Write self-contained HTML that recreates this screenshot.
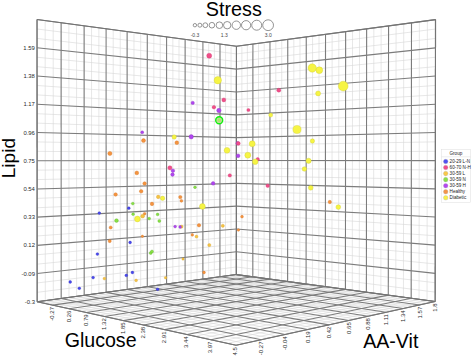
<!DOCTYPE html>
<html><head><meta charset="utf-8"><style>
html,body{margin:0;padding:0;background:#fff;}
svg{display:block;}
text{font-family:"Liberation Sans",sans-serif;}
</style></head><body>
<svg width="472" height="356" viewBox="0 0 472 356">
<rect width="472" height="356" fill="#fff"/>
<g><line x1="45.30" y1="300.63" x2="45.17" y2="20.67" stroke="#d6d6d6" stroke-width="0.6"/>
<line x1="37.15" y1="292.35" x2="236.39" y2="266.98" stroke="#d6d6d6" stroke-width="0.6"/>
<line x1="241.79" y1="275.32" x2="241.88" y2="45.58" stroke="#d6d6d6" stroke-width="0.6"/>
<line x1="236.39" y1="266.98" x2="435.17" y2="292.11" stroke="#d6d6d6" stroke-width="0.6"/>
<line x1="42.27" y1="302.86" x2="241.79" y2="275.32" stroke="#d6d6d6" stroke-width="0.6"/>
<line x1="45.30" y1="300.63" x2="244.66" y2="343.39" stroke="#d6d6d6" stroke-width="0.6"/>
<line x1="53.32" y1="299.54" x2="53.20" y2="21.74" stroke="#d6d6d6" stroke-width="0.6"/>
<line x1="37.15" y1="282.95" x2="236.39" y2="259.38" stroke="#d6d6d6" stroke-width="0.6"/>
<line x1="247.26" y1="276.06" x2="247.36" y2="44.84" stroke="#d6d6d6" stroke-width="0.6"/>
<line x1="236.39" y1="259.38" x2="435.18" y2="282.72" stroke="#d6d6d6" stroke-width="0.6"/>
<line x1="47.47" y1="304.00" x2="247.26" y2="276.06" stroke="#d6d6d6" stroke-width="0.6"/>
<line x1="53.32" y1="299.54" x2="253.08" y2="341.54" stroke="#d6d6d6" stroke-width="0.6"/>
<line x1="68.99" y1="297.40" x2="68.89" y2="23.84" stroke="#d6d6d6" stroke-width="0.6"/>
<line x1="37.14" y1="264.16" x2="236.40" y2="244.17" stroke="#d6d6d6" stroke-width="0.6"/>
<line x1="258.41" y1="277.57" x2="258.52" y2="43.35" stroke="#d6d6d6" stroke-width="0.6"/>
<line x1="236.40" y1="244.17" x2="435.21" y2="263.95" stroke="#d6d6d6" stroke-width="0.6"/>
<line x1="58.11" y1="306.33" x2="258.41" y2="277.57" stroke="#d6d6d6" stroke-width="0.6"/>
<line x1="68.99" y1="297.40" x2="269.43" y2="337.94" stroke="#d6d6d6" stroke-width="0.6"/>
<line x1="76.64" y1="296.36" x2="76.56" y2="24.87" stroke="#d6d6d6" stroke-width="0.6"/>
<line x1="37.14" y1="254.76" x2="236.40" y2="236.57" stroke="#d6d6d6" stroke-width="0.6"/>
<line x1="264.10" y1="278.34" x2="264.22" y2="42.58" stroke="#d6d6d6" stroke-width="0.6"/>
<line x1="236.40" y1="236.57" x2="435.22" y2="254.56" stroke="#d6d6d6" stroke-width="0.6"/>
<line x1="63.56" y1="307.52" x2="264.10" y2="278.34" stroke="#d6d6d6" stroke-width="0.6"/>
<line x1="76.64" y1="296.36" x2="277.36" y2="336.20" stroke="#d6d6d6" stroke-width="0.6"/>
<line x1="91.61" y1="294.32" x2="91.54" y2="26.88" stroke="#d6d6d6" stroke-width="0.6"/>
<line x1="37.13" y1="235.97" x2="236.41" y2="221.36" stroke="#d6d6d6" stroke-width="0.6"/>
<line x1="275.70" y1="279.91" x2="275.83" y2="41.03" stroke="#d6d6d6" stroke-width="0.6"/>
<line x1="236.41" y1="221.36" x2="435.24" y2="235.79" stroke="#d6d6d6" stroke-width="0.6"/>
<line x1="74.73" y1="309.97" x2="275.70" y2="279.91" stroke="#d6d6d6" stroke-width="0.6"/>
<line x1="91.61" y1="294.32" x2="292.77" y2="332.81" stroke="#d6d6d6" stroke-width="0.6"/>
<line x1="98.93" y1="293.32" x2="98.87" y2="27.86" stroke="#d6d6d6" stroke-width="0.6"/>
<line x1="37.12" y1="226.57" x2="236.41" y2="213.76" stroke="#d6d6d6" stroke-width="0.6"/>
<line x1="281.61" y1="280.71" x2="281.75" y2="40.23" stroke="#d6d6d6" stroke-width="0.6"/>
<line x1="236.41" y1="213.76" x2="435.25" y2="226.40" stroke="#d6d6d6" stroke-width="0.6"/>
<line x1="80.46" y1="311.22" x2="281.61" y2="280.71" stroke="#d6d6d6" stroke-width="0.6"/>
<line x1="98.93" y1="293.32" x2="300.25" y2="331.16" stroke="#d6d6d6" stroke-width="0.6"/>
<line x1="113.25" y1="291.37" x2="113.21" y2="29.78" stroke="#d6d6d6" stroke-width="0.6"/>
<line x1="37.11" y1="207.76" x2="236.41" y2="198.54" stroke="#d6d6d6" stroke-width="0.6"/>
<line x1="293.68" y1="282.34" x2="293.84" y2="38.61" stroke="#d6d6d6" stroke-width="0.6"/>
<line x1="236.41" y1="198.54" x2="435.28" y2="207.61" stroke="#d6d6d6" stroke-width="0.6"/>
<line x1="92.20" y1="313.79" x2="293.68" y2="282.34" stroke="#d6d6d6" stroke-width="0.6"/>
<line x1="113.25" y1="291.37" x2="314.80" y2="327.96" stroke="#d6d6d6" stroke-width="0.6"/>
<line x1="120.25" y1="290.41" x2="120.22" y2="30.72" stroke="#d6d6d6" stroke-width="0.6"/>
<line x1="37.11" y1="198.36" x2="236.42" y2="190.94" stroke="#d6d6d6" stroke-width="0.6"/>
<line x1="299.84" y1="283.17" x2="300.00" y2="37.79" stroke="#d6d6d6" stroke-width="0.6"/>
<line x1="236.42" y1="190.94" x2="435.29" y2="198.22" stroke="#d6d6d6" stroke-width="0.6"/>
<line x1="98.22" y1="315.11" x2="299.84" y2="283.17" stroke="#d6d6d6" stroke-width="0.6"/>
<line x1="120.25" y1="290.41" x2="321.88" y2="326.41" stroke="#d6d6d6" stroke-width="0.6"/>
<line x1="133.96" y1="288.55" x2="133.94" y2="32.56" stroke="#d6d6d6" stroke-width="0.6"/>
<line x1="37.10" y1="179.56" x2="236.42" y2="175.72" stroke="#d6d6d6" stroke-width="0.6"/>
<line x1="312.41" y1="284.88" x2="312.59" y2="36.10" stroke="#d6d6d6" stroke-width="0.6"/>
<line x1="236.42" y1="175.72" x2="435.31" y2="179.44" stroke="#d6d6d6" stroke-width="0.6"/>
<line x1="110.58" y1="317.81" x2="312.41" y2="284.88" stroke="#d6d6d6" stroke-width="0.6"/>
<line x1="133.96" y1="288.55" x2="335.64" y2="323.38" stroke="#d6d6d6" stroke-width="0.6"/>
<line x1="140.67" y1="287.63" x2="140.66" y2="33.46" stroke="#d6d6d6" stroke-width="0.6"/>
<line x1="37.09" y1="170.15" x2="236.43" y2="168.11" stroke="#d6d6d6" stroke-width="0.6"/>
<line x1="318.83" y1="285.75" x2="319.02" y2="35.24" stroke="#d6d6d6" stroke-width="0.6"/>
<line x1="236.43" y1="168.11" x2="435.33" y2="170.04" stroke="#d6d6d6" stroke-width="0.6"/>
<line x1="116.93" y1="319.20" x2="318.83" y2="285.75" stroke="#d6d6d6" stroke-width="0.6"/>
<line x1="140.67" y1="287.63" x2="342.33" y2="321.91" stroke="#d6d6d6" stroke-width="0.6"/>
<line x1="153.80" y1="285.84" x2="153.81" y2="35.23" stroke="#d6d6d6" stroke-width="0.6"/>
<line x1="37.08" y1="151.34" x2="236.43" y2="152.89" stroke="#d6d6d6" stroke-width="0.6"/>
<line x1="331.94" y1="287.52" x2="332.14" y2="33.48" stroke="#d6d6d6" stroke-width="0.6"/>
<line x1="236.43" y1="152.89" x2="435.35" y2="151.25" stroke="#d6d6d6" stroke-width="0.6"/>
<line x1="129.95" y1="322.05" x2="331.94" y2="287.52" stroke="#d6d6d6" stroke-width="0.6"/>
<line x1="153.80" y1="285.84" x2="355.37" y2="319.04" stroke="#d6d6d6" stroke-width="0.6"/>
<line x1="160.23" y1="284.96" x2="160.24" y2="36.09" stroke="#d6d6d6" stroke-width="0.6"/>
<line x1="37.08" y1="141.93" x2="236.43" y2="145.28" stroke="#d6d6d6" stroke-width="0.6"/>
<line x1="338.63" y1="288.43" x2="338.84" y2="32.58" stroke="#d6d6d6" stroke-width="0.6"/>
<line x1="236.43" y1="145.28" x2="435.36" y2="141.85" stroke="#d6d6d6" stroke-width="0.6"/>
<line x1="136.64" y1="323.52" x2="338.63" y2="288.43" stroke="#d6d6d6" stroke-width="0.6"/>
<line x1="160.23" y1="284.96" x2="361.72" y2="317.65" stroke="#d6d6d6" stroke-width="0.6"/>
<line x1="172.83" y1="283.25" x2="172.86" y2="37.78" stroke="#d6d6d6" stroke-width="0.6"/>
<line x1="37.07" y1="123.12" x2="236.44" y2="130.06" stroke="#d6d6d6" stroke-width="0.6"/>
<line x1="352.30" y1="290.28" x2="352.54" y2="30.75" stroke="#d6d6d6" stroke-width="0.6"/>
<line x1="236.44" y1="130.06" x2="435.39" y2="123.06" stroke="#d6d6d6" stroke-width="0.6"/>
<line x1="150.39" y1="326.53" x2="352.30" y2="290.28" stroke="#d6d6d6" stroke-width="0.6"/>
<line x1="172.83" y1="283.25" x2="374.09" y2="314.93" stroke="#d6d6d6" stroke-width="0.6"/>
<line x1="179.00" y1="282.41" x2="179.03" y2="38.61" stroke="#d6d6d6" stroke-width="0.6"/>
<line x1="37.06" y1="113.71" x2="236.44" y2="122.45" stroke="#d6d6d6" stroke-width="0.6"/>
<line x1="359.29" y1="291.22" x2="359.53" y2="29.81" stroke="#d6d6d6" stroke-width="0.6"/>
<line x1="236.44" y1="122.45" x2="435.40" y2="113.66" stroke="#d6d6d6" stroke-width="0.6"/>
<line x1="157.46" y1="328.07" x2="359.29" y2="291.22" stroke="#d6d6d6" stroke-width="0.6"/>
<line x1="179.00" y1="282.41" x2="380.11" y2="313.60" stroke="#d6d6d6" stroke-width="0.6"/>
<line x1="191.09" y1="280.76" x2="191.14" y2="40.23" stroke="#d6d6d6" stroke-width="0.6"/>
<line x1="37.06" y1="94.89" x2="236.45" y2="107.22" stroke="#d6d6d6" stroke-width="0.6"/>
<line x1="373.57" y1="293.16" x2="373.83" y2="27.89" stroke="#d6d6d6" stroke-width="0.6"/>
<line x1="236.45" y1="107.22" x2="435.42" y2="94.86" stroke="#d6d6d6" stroke-width="0.6"/>
<line x1="171.99" y1="331.25" x2="373.57" y2="293.16" stroke="#d6d6d6" stroke-width="0.6"/>
<line x1="191.09" y1="280.76" x2="391.86" y2="311.02" stroke="#d6d6d6" stroke-width="0.6"/>
<line x1="197.02" y1="279.95" x2="197.07" y2="41.02" stroke="#d6d6d6" stroke-width="0.6"/>
<line x1="37.05" y1="85.48" x2="236.45" y2="99.61" stroke="#d6d6d6" stroke-width="0.6"/>
<line x1="380.87" y1="294.14" x2="381.14" y2="26.91" stroke="#d6d6d6" stroke-width="0.6"/>
<line x1="236.45" y1="99.61" x2="435.43" y2="85.46" stroke="#d6d6d6" stroke-width="0.6"/>
<line x1="179.47" y1="332.89" x2="380.87" y2="294.14" stroke="#d6d6d6" stroke-width="0.6"/>
<line x1="197.02" y1="279.95" x2="397.59" y2="309.76" stroke="#d6d6d6" stroke-width="0.6"/>
<line x1="208.64" y1="278.37" x2="208.70" y2="42.58" stroke="#d6d6d6" stroke-width="0.6"/>
<line x1="37.04" y1="66.65" x2="236.46" y2="84.38" stroke="#d6d6d6" stroke-width="0.6"/>
<line x1="395.80" y1="296.16" x2="396.09" y2="24.91" stroke="#d6d6d6" stroke-width="0.6"/>
<line x1="236.46" y1="84.38" x2="435.46" y2="66.65" stroke="#d6d6d6" stroke-width="0.6"/>
<line x1="194.85" y1="336.26" x2="395.80" y2="296.16" stroke="#d6d6d6" stroke-width="0.6"/>
<line x1="208.64" y1="278.37" x2="408.76" y2="307.30" stroke="#d6d6d6" stroke-width="0.6"/>
<line x1="214.33" y1="277.59" x2="214.40" y2="43.35" stroke="#d6d6d6" stroke-width="0.6"/>
<line x1="37.04" y1="57.24" x2="236.46" y2="76.77" stroke="#d6d6d6" stroke-width="0.6"/>
<line x1="403.43" y1="297.20" x2="403.74" y2="23.88" stroke="#d6d6d6" stroke-width="0.6"/>
<line x1="236.46" y1="76.77" x2="435.47" y2="57.25" stroke="#d6d6d6" stroke-width="0.6"/>
<line x1="202.77" y1="337.99" x2="403.43" y2="297.20" stroke="#d6d6d6" stroke-width="0.6"/>
<line x1="214.33" y1="277.59" x2="414.21" y2="306.10" stroke="#d6d6d6" stroke-width="0.6"/>
<line x1="225.50" y1="276.07" x2="225.58" y2="44.84" stroke="#d6d6d6" stroke-width="0.6"/>
<line x1="37.03" y1="38.41" x2="236.47" y2="61.54" stroke="#d6d6d6" stroke-width="0.6"/>
<line x1="419.05" y1="299.31" x2="419.38" y2="21.78" stroke="#d6d6d6" stroke-width="0.6"/>
<line x1="236.47" y1="61.54" x2="435.49" y2="38.44" stroke="#d6d6d6" stroke-width="0.6"/>
<line x1="219.09" y1="341.56" x2="419.05" y2="299.31" stroke="#d6d6d6" stroke-width="0.6"/>
<line x1="225.50" y1="276.07" x2="424.85" y2="303.76" stroke="#d6d6d6" stroke-width="0.6"/>
<line x1="230.98" y1="275.32" x2="231.06" y2="45.58" stroke="#d6d6d6" stroke-width="0.6"/>
<line x1="37.02" y1="28.99" x2="236.47" y2="53.92" stroke="#d6d6d6" stroke-width="0.6"/>
<line x1="427.04" y1="300.39" x2="427.39" y2="20.71" stroke="#d6d6d6" stroke-width="0.6"/>
<line x1="236.47" y1="53.92" x2="435.50" y2="29.03" stroke="#d6d6d6" stroke-width="0.6"/>
<line x1="227.49" y1="343.40" x2="427.04" y2="300.39" stroke="#d6d6d6" stroke-width="0.6"/>
<line x1="230.98" y1="275.32" x2="430.05" y2="302.62" stroke="#d6d6d6" stroke-width="0.6"/>
<line x1="37.16" y1="301.74" x2="37.02" y2="19.57" stroke="#7c7c7c" stroke-width="1.1"/>
<line x1="37.16" y1="301.74" x2="236.38" y2="274.58" stroke="#7c7c7c" stroke-width="1.1"/>
<line x1="236.38" y1="274.58" x2="236.47" y2="46.30" stroke="#7c7c7c" stroke-width="1.1"/>
<line x1="236.38" y1="274.58" x2="435.16" y2="301.49" stroke="#7c7c7c" stroke-width="1.1"/>
<line x1="37.16" y1="301.74" x2="236.38" y2="274.58" stroke="#7c7c7c" stroke-width="1.1"/>
<line x1="37.16" y1="301.74" x2="236.07" y2="345.28" stroke="#7c7c7c" stroke-width="1.1"/>
<line x1="61.21" y1="298.46" x2="61.11" y2="22.80" stroke="#7c7c7c" stroke-width="1.1"/>
<line x1="37.14" y1="273.56" x2="236.39" y2="251.78" stroke="#7c7c7c" stroke-width="1.1"/>
<line x1="252.80" y1="276.81" x2="252.90" y2="44.10" stroke="#7c7c7c" stroke-width="1.1"/>
<line x1="236.39" y1="251.78" x2="435.20" y2="273.34" stroke="#7c7c7c" stroke-width="1.1"/>
<line x1="52.74" y1="305.15" x2="252.80" y2="276.81" stroke="#7c7c7c" stroke-width="1.1"/>
<line x1="61.21" y1="298.46" x2="261.34" y2="339.72" stroke="#7c7c7c" stroke-width="1.1"/>
<line x1="84.19" y1="295.33" x2="84.11" y2="25.88" stroke="#7c7c7c" stroke-width="1.1"/>
<line x1="37.13" y1="245.36" x2="236.40" y2="228.97" stroke="#7c7c7c" stroke-width="1.1"/>
<line x1="269.86" y1="279.12" x2="269.98" y2="41.81" stroke="#7c7c7c" stroke-width="1.1"/>
<line x1="236.40" y1="228.97" x2="435.23" y2="245.17" stroke="#7c7c7c" stroke-width="1.1"/>
<line x1="69.10" y1="308.73" x2="269.86" y2="279.12" stroke="#7c7c7c" stroke-width="1.1"/>
<line x1="84.19" y1="295.33" x2="285.14" y2="334.49" stroke="#7c7c7c" stroke-width="1.1"/>
<line x1="106.14" y1="292.34" x2="106.09" y2="28.83" stroke="#7c7c7c" stroke-width="1.1"/>
<line x1="37.12" y1="217.17" x2="236.41" y2="206.15" stroke="#7c7c7c" stroke-width="1.1"/>
<line x1="287.61" y1="281.52" x2="287.75" y2="39.43" stroke="#7c7c7c" stroke-width="1.1"/>
<line x1="236.41" y1="206.15" x2="435.27" y2="217.01" stroke="#7c7c7c" stroke-width="1.1"/>
<line x1="86.28" y1="312.49" x2="287.61" y2="281.52" stroke="#7c7c7c" stroke-width="1.1"/>
<line x1="106.14" y1="292.34" x2="307.60" y2="329.55" stroke="#7c7c7c" stroke-width="1.1"/>
<line x1="127.16" y1="289.47" x2="127.13" y2="31.65" stroke="#7c7c7c" stroke-width="1.1"/>
<line x1="37.10" y1="188.96" x2="236.42" y2="183.33" stroke="#7c7c7c" stroke-width="1.1"/>
<line x1="306.08" y1="284.02" x2="306.26" y2="36.95" stroke="#7c7c7c" stroke-width="1.1"/>
<line x1="236.42" y1="183.33" x2="435.30" y2="188.83" stroke="#7c7c7c" stroke-width="1.1"/>
<line x1="104.35" y1="316.45" x2="306.08" y2="284.02" stroke="#7c7c7c" stroke-width="1.1"/>
<line x1="127.16" y1="289.47" x2="328.82" y2="324.88" stroke="#7c7c7c" stroke-width="1.1"/>
<line x1="147.28" y1="286.73" x2="147.28" y2="34.35" stroke="#7c7c7c" stroke-width="1.1"/>
<line x1="37.09" y1="160.75" x2="236.43" y2="160.50" stroke="#7c7c7c" stroke-width="1.1"/>
<line x1="325.34" y1="286.63" x2="325.53" y2="34.37" stroke="#7c7c7c" stroke-width="1.1"/>
<line x1="236.43" y1="160.50" x2="435.34" y2="160.65" stroke="#7c7c7c" stroke-width="1.1"/>
<line x1="123.38" y1="320.61" x2="325.34" y2="286.63" stroke="#7c7c7c" stroke-width="1.1"/>
<line x1="147.28" y1="286.73" x2="348.91" y2="320.46" stroke="#7c7c7c" stroke-width="1.1"/>
<line x1="166.58" y1="284.10" x2="166.59" y2="36.94" stroke="#7c7c7c" stroke-width="1.1"/>
<line x1="37.07" y1="132.53" x2="236.44" y2="137.67" stroke="#7c7c7c" stroke-width="1.1"/>
<line x1="345.42" y1="289.34" x2="345.64" y2="31.67" stroke="#7c7c7c" stroke-width="1.1"/>
<line x1="236.44" y1="137.67" x2="435.37" y2="132.46" stroke="#7c7c7c" stroke-width="1.1"/>
<line x1="143.45" y1="325.01" x2="345.42" y2="289.34" stroke="#7c7c7c" stroke-width="1.1"/>
<line x1="166.58" y1="284.10" x2="367.96" y2="316.27" stroke="#7c7c7c" stroke-width="1.1"/>
<line x1="185.09" y1="281.58" x2="185.13" y2="39.42" stroke="#7c7c7c" stroke-width="1.1"/>
<line x1="37.06" y1="104.30" x2="236.45" y2="114.84" stroke="#7c7c7c" stroke-width="1.1"/>
<line x1="366.38" y1="292.18" x2="366.63" y2="28.86" stroke="#7c7c7c" stroke-width="1.1"/>
<line x1="236.45" y1="114.84" x2="435.41" y2="104.26" stroke="#7c7c7c" stroke-width="1.1"/>
<line x1="164.66" y1="329.65" x2="366.38" y2="292.18" stroke="#7c7c7c" stroke-width="1.1"/>
<line x1="185.09" y1="281.58" x2="386.03" y2="312.30" stroke="#7c7c7c" stroke-width="1.1"/>
<line x1="202.87" y1="279.15" x2="202.92" y2="41.81" stroke="#7c7c7c" stroke-width="1.1"/>
<line x1="37.05" y1="76.06" x2="236.45" y2="92.00" stroke="#7c7c7c" stroke-width="1.1"/>
<line x1="388.28" y1="295.15" x2="388.56" y2="25.92" stroke="#7c7c7c" stroke-width="1.1"/>
<line x1="236.45" y1="92.00" x2="435.45" y2="76.05" stroke="#7c7c7c" stroke-width="1.1"/>
<line x1="187.08" y1="334.56" x2="388.28" y2="295.15" stroke="#7c7c7c" stroke-width="1.1"/>
<line x1="202.87" y1="279.15" x2="403.22" y2="308.52" stroke="#7c7c7c" stroke-width="1.1"/>
<line x1="219.95" y1="276.82" x2="220.02" y2="44.10" stroke="#7c7c7c" stroke-width="1.1"/>
<line x1="37.03" y1="47.82" x2="236.46" y2="69.15" stroke="#7c7c7c" stroke-width="1.1"/>
<line x1="411.18" y1="298.25" x2="411.50" y2="22.84" stroke="#7c7c7c" stroke-width="1.1"/>
<line x1="236.46" y1="69.15" x2="435.48" y2="47.84" stroke="#7c7c7c" stroke-width="1.1"/>
<line x1="210.85" y1="339.76" x2="411.18" y2="298.25" stroke="#7c7c7c" stroke-width="1.1"/>
<line x1="219.95" y1="276.82" x2="419.57" y2="304.92" stroke="#7c7c7c" stroke-width="1.1"/>
<line x1="236.38" y1="274.58" x2="236.47" y2="46.30" stroke="#7c7c7c" stroke-width="1.1"/>
<line x1="37.02" y1="19.57" x2="236.47" y2="46.30" stroke="#7c7c7c" stroke-width="1.1"/>
<line x1="435.16" y1="301.49" x2="435.52" y2="19.62" stroke="#7c7c7c" stroke-width="1.1"/>
<line x1="236.47" y1="46.30" x2="435.52" y2="19.62" stroke="#7c7c7c" stroke-width="1.1"/>
<line x1="236.07" y1="345.28" x2="435.16" y2="301.49" stroke="#7c7c7c" stroke-width="1.1"/>
<line x1="236.38" y1="274.58" x2="435.16" y2="301.49" stroke="#7c7c7c" stroke-width="1.1"/>
<line x1="37.16" y1="301.74" x2="37.02" y2="19.57" stroke="#747474" stroke-width="1.1"/>
<line x1="37.02" y1="19.57" x2="236.47" y2="46.30" stroke="#747474" stroke-width="1.1"/>
<line x1="236.47" y1="46.30" x2="435.52" y2="19.62" stroke="#747474" stroke-width="1.1"/>
<line x1="435.52" y1="19.62" x2="435.16" y2="301.49" stroke="#747474" stroke-width="1.1"/>
<line x1="236.38" y1="274.58" x2="236.47" y2="46.30" stroke="#747474" stroke-width="1.1"/>
<line x1="37.16" y1="301.74" x2="236.38" y2="274.58" stroke="#747474" stroke-width="1.1"/>
<line x1="236.38" y1="274.58" x2="435.16" y2="301.49" stroke="#747474" stroke-width="1.1"/>
<line x1="37.16" y1="301.74" x2="236.07" y2="345.28" stroke="#747474" stroke-width="1.1"/>
<line x1="236.07" y1="345.28" x2="435.16" y2="301.49" stroke="#747474" stroke-width="1.1"/></g>
<g><circle cx="209.2" cy="55.7" r="2.5" fill="#f0508a" stroke="#d0306a" stroke-width="0.35"/>
<circle cx="217.8" cy="80.2" r="3.7" fill="#f6f444" stroke="#c8c830" stroke-width="0.35"/>
<circle cx="223.8" cy="99.9" r="2.0" fill="#f0508a" stroke="#d0306a" stroke-width="0.35"/>
<circle cx="278.8" cy="90.2" r="2.0" fill="#f0508a" stroke="#d0306a" stroke-width="0.35"/>
<circle cx="312.2" cy="68.0" r="4.2" fill="#f6f444" stroke="#c8c830" stroke-width="0.35"/>
<circle cx="319.3" cy="70.2" r="3.4" fill="#f6f444" stroke="#c8c830" stroke-width="0.35"/>
<circle cx="343.2" cy="86.1" r="4.9" fill="#f6f444" stroke="#c8c830" stroke-width="0.35"/>
<circle cx="318.1" cy="93.4" r="2.5" fill="#f6f444" stroke="#c8c830" stroke-width="0.35"/>
<circle cx="192.7" cy="102.9" r="1.7" fill="#b046ee" stroke="#8830c0" stroke-width="0.35"/>
<circle cx="213.9" cy="107.2" r="1.8" fill="#f0508a" stroke="#d0306a" stroke-width="0.35"/>
<circle cx="218.9" cy="110.5" r="2.2" fill="#b046ee" stroke="#8830c0" stroke-width="0.35"/>
<circle cx="174.2" cy="137.0" r="2.2" fill="#f6f444" stroke="#c8c830" stroke-width="0.35"/>
<circle cx="191.2" cy="136.8" r="2.2" fill="#b046ee" stroke="#8830c0" stroke-width="0.35"/>
<circle cx="176.8" cy="142.7" r="1.9" fill="#f59440" stroke="#d07020" stroke-width="0.35"/>
<circle cx="227.0" cy="150.3" r="2.9" fill="#f6f444" stroke="#c8c830" stroke-width="0.35"/>
<circle cx="142.2" cy="132.3" r="1.5" fill="#b046ee" stroke="#8830c0" stroke-width="0.35"/>
<circle cx="143.5" cy="140.6" r="2.0" fill="#f59440" stroke="#d07020" stroke-width="0.35"/>
<circle cx="109.9" cy="153.5" r="2.1" fill="#f59440" stroke="#d07020" stroke-width="0.35"/>
<circle cx="136.8" cy="172.9" r="1.9" fill="#f59440" stroke="#d07020" stroke-width="0.35"/>
<circle cx="237.6" cy="143.2" r="1.7" fill="#b046ee" stroke="#8830c0" stroke-width="0.35"/>
<circle cx="238.3" cy="143.4" r="1.9" fill="#f0508a" stroke="#d0306a" stroke-width="0.35"/>
<circle cx="238.1" cy="155.8" r="1.9" fill="#b046ee" stroke="#8830c0" stroke-width="0.35"/>
<circle cx="169.9" cy="167.8" r="2.1" fill="#f0508a" stroke="#d0306a" stroke-width="0.35"/>
<circle cx="172.9" cy="170.7" r="1.8" fill="#b046ee" stroke="#8830c0" stroke-width="0.35"/>
<circle cx="172.5" cy="174.6" r="1.8" fill="#b046ee" stroke="#8830c0" stroke-width="0.35"/>
<circle cx="229.8" cy="175.4" r="1.7" fill="#f0508a" stroke="#d0306a" stroke-width="0.35"/>
<circle cx="213.1" cy="183.4" r="1.8" fill="#b046ee" stroke="#8830c0" stroke-width="0.35"/>
<circle cx="195.0" cy="187.3" r="1.4" fill="#88e044" stroke="#60b030" stroke-width="0.35"/>
<circle cx="162.6" cy="198.3" r="2.2" fill="#f6f444" stroke="#c8c830" stroke-width="0.35"/>
<circle cx="180.3" cy="197.1" r="1.7" fill="#f59440" stroke="#d07020" stroke-width="0.35"/>
<circle cx="181.4" cy="200.9" r="1.4" fill="#f59440" stroke="#d07020" stroke-width="0.35"/>
<circle cx="202.4" cy="206.4" r="2.9" fill="#f6f444" stroke="#c8c830" stroke-width="0.35"/>
<circle cx="144.6" cy="183.5" r="1.8" fill="#f59440" stroke="#d07020" stroke-width="0.35"/>
<circle cx="115.6" cy="194.5" r="1.8" fill="#f59440" stroke="#d07020" stroke-width="0.35"/>
<circle cx="141.2" cy="191.3" r="1.8" fill="#f59440" stroke="#d07020" stroke-width="0.35"/>
<circle cx="158.2" cy="196.9" r="1.8" fill="#f6c444" stroke="#d0a030" stroke-width="0.35"/>
<circle cx="132.8" cy="203.6" r="1.4" fill="#88e044" stroke="#60b030" stroke-width="0.35"/>
<circle cx="152.0" cy="203.9" r="1.8" fill="#f59440" stroke="#d07020" stroke-width="0.35"/>
<circle cx="128.8" cy="208.2" r="1.4" fill="#4848ee" stroke="#3030c0" stroke-width="0.35"/>
<circle cx="99.3" cy="213.1" r="1.4" fill="#4848ee" stroke="#3030c0" stroke-width="0.35"/>
<circle cx="133.1" cy="214.2" r="1.4" fill="#88e044" stroke="#60b030" stroke-width="0.35"/>
<circle cx="144.6" cy="213.8" r="1.4" fill="#f59440" stroke="#d07020" stroke-width="0.35"/>
<circle cx="142.6" cy="216.2" r="1.9" fill="#f6c444" stroke="#d0a030" stroke-width="0.35"/>
<circle cx="137.4" cy="219.0" r="2.9" fill="#f6f444" stroke="#c8c830" stroke-width="0.35"/>
<circle cx="157.6" cy="214.4" r="1.4" fill="#88e044" stroke="#60b030" stroke-width="0.35"/>
<circle cx="149.2" cy="218.6" r="1.4" fill="#88e044" stroke="#60b030" stroke-width="0.35"/>
<circle cx="116.5" cy="220.6" r="1.9" fill="#88e044" stroke="#60b030" stroke-width="0.35"/>
<circle cx="159.3" cy="220.9" r="1.5" fill="#88e044" stroke="#60b030" stroke-width="0.35"/>
<circle cx="110.7" cy="227.5" r="1.6" fill="#f59440" stroke="#d07020" stroke-width="0.35"/>
<circle cx="109.7" cy="241.1" r="1.6" fill="#f59440" stroke="#d07020" stroke-width="0.35"/>
<circle cx="97.4" cy="254.1" r="1.4" fill="#4848ee" stroke="#3030c0" stroke-width="0.35"/>
<circle cx="142.4" cy="236.3" r="1.2" fill="#f59440" stroke="#d07020" stroke-width="0.35"/>
<circle cx="130.1" cy="242.5" r="1.4" fill="#4848ee" stroke="#3030c0" stroke-width="0.35"/>
<circle cx="150.7" cy="253.0" r="1.5" fill="#88e044" stroke="#60b030" stroke-width="0.35"/>
<circle cx="152.0" cy="251.5" r="1.5" fill="#88e044" stroke="#60b030" stroke-width="0.35"/>
<circle cx="183.0" cy="259.0" r="1.2" fill="#f6c444" stroke="#d0a030" stroke-width="0.35"/>
<circle cx="126.3" cy="275.4" r="1.4" fill="#4848ee" stroke="#3030c0" stroke-width="0.35"/>
<circle cx="132.4" cy="272.5" r="1.4" fill="#4848ee" stroke="#3030c0" stroke-width="0.35"/>
<circle cx="136.1" cy="280.4" r="1.4" fill="#f6c444" stroke="#d0a030" stroke-width="0.35"/>
<circle cx="165.6" cy="277.7" r="1.3" fill="#f6c444" stroke="#d0a030" stroke-width="0.35"/>
<circle cx="175.1" cy="226.6" r="1.4" fill="#b046ee" stroke="#8830c0" stroke-width="0.35"/>
<circle cx="181.5" cy="226.7" r="1.6" fill="#f6c444" stroke="#d0a030" stroke-width="0.35"/>
<circle cx="180.1" cy="227.0" r="1.4" fill="#b046ee" stroke="#8830c0" stroke-width="0.35"/>
<circle cx="199.0" cy="225.3" r="1.7" fill="#f59440" stroke="#d07020" stroke-width="0.35"/>
<circle cx="222.8" cy="225.8" r="1.6" fill="#f6c444" stroke="#d0a030" stroke-width="0.35"/>
<circle cx="238.4" cy="230.0" r="1.3" fill="#f59440" stroke="#d07020" stroke-width="0.35"/>
<circle cx="192.3" cy="234.9" r="1.3" fill="#f59440" stroke="#d07020" stroke-width="0.35"/>
<circle cx="196.5" cy="236.6" r="1.5" fill="#f6c444" stroke="#d0a030" stroke-width="0.35"/>
<circle cx="209.3" cy="245.1" r="1.6" fill="#f6c444" stroke="#d0a030" stroke-width="0.35"/>
<circle cx="70.2" cy="282.0" r="1.4" fill="#4848ee" stroke="#3030c0" stroke-width="0.35"/>
<circle cx="79.3" cy="288.3" r="1.4" fill="#4848ee" stroke="#3030c0" stroke-width="0.35"/>
<circle cx="93.1" cy="277.6" r="1.4" fill="#4848ee" stroke="#3030c0" stroke-width="0.35"/>
<circle cx="104.4" cy="278.6" r="1.4" fill="#f6c444" stroke="#d0a030" stroke-width="0.35"/>
<circle cx="157.6" cy="289.3" r="1.4" fill="#4848ee" stroke="#3030c0" stroke-width="0.35"/>
<circle cx="204.0" cy="272.5" r="1.4" fill="#f59440" stroke="#d07020" stroke-width="0.35"/>
<circle cx="248.4" cy="110.0" r="1.6" fill="#f0508a" stroke="#d0306a" stroke-width="0.35"/>
<circle cx="270.7" cy="115.1" r="2.0" fill="#f6f444" stroke="#c8c830" stroke-width="0.35"/>
<circle cx="297.0" cy="129.5" r="4.1" fill="#f6f444" stroke="#c8c830" stroke-width="0.35"/>
<circle cx="252.2" cy="143.8" r="3.0" fill="#f6f444" stroke="#c8c830" stroke-width="0.35"/>
<circle cx="312.4" cy="141.0" r="2.2" fill="#f6f444" stroke="#c8c830" stroke-width="0.35"/>
<circle cx="247.8" cy="155.2" r="3.0" fill="#f6f444" stroke="#c8c830" stroke-width="0.35"/>
<circle cx="257.7" cy="159.2" r="1.7" fill="#f0508a" stroke="#d0306a" stroke-width="0.35"/>
<circle cx="255.2" cy="161.7" r="2.8" fill="#f6f444" stroke="#c8c830" stroke-width="0.35"/>
<circle cx="267.7" cy="185.8" r="1.8" fill="#f0508a" stroke="#d0306a" stroke-width="0.35"/>
<circle cx="308.6" cy="160.8" r="2.6" fill="#f6f444" stroke="#c8c830" stroke-width="0.35"/>
<circle cx="304.4" cy="169.0" r="2.3" fill="#f6f444" stroke="#c8c830" stroke-width="0.35"/>
<circle cx="310.7" cy="187.8" r="2.4" fill="#f6f444" stroke="#c8c830" stroke-width="0.35"/>
<circle cx="329.8" cy="202.0" r="1.7" fill="#f59440" stroke="#d07020" stroke-width="0.35"/>
<circle cx="338.3" cy="207.1" r="2.4" fill="#f6f444" stroke="#c8c830" stroke-width="0.35"/>
<circle cx="242.0" cy="216.7" r="1.4" fill="#f59440" stroke="#d07020" stroke-width="0.35"/>
<circle cx="219.2" cy="120.2" r="3.5" fill="#c0dc98" stroke="#10f010" stroke-width="1.4"/><circle cx="219.2" cy="120.2" r="1.6" fill="#a8e868"/></g>
<g><text x="34.96" y="303.74" font-size="5.9" text-anchor="end" fill="#2a2a2a">-0.3</text>
<text x="34.94" y="275.56" font-size="5.9" text-anchor="end" fill="#2a2a2a">-0.09</text>
<text x="34.93" y="247.36" font-size="5.9" text-anchor="end" fill="#2a2a2a">0.12</text>
<text x="34.92" y="219.17" font-size="5.9" text-anchor="end" fill="#2a2a2a">0.33</text>
<text x="34.90" y="190.96" font-size="5.9" text-anchor="end" fill="#2a2a2a">0.54</text>
<text x="34.89" y="162.75" font-size="5.9" text-anchor="end" fill="#2a2a2a">0.75</text>
<text x="34.87" y="134.53" font-size="5.9" text-anchor="end" fill="#2a2a2a">0.96</text>
<text x="34.86" y="106.30" font-size="5.9" text-anchor="end" fill="#2a2a2a">1.17</text>
<text x="34.85" y="78.06" font-size="5.9" text-anchor="end" fill="#2a2a2a">1.38</text>
<text x="34.83" y="49.82" font-size="5.9" text-anchor="end" fill="#2a2a2a">1.59</text>
<text transform="translate(54.14,306.95) rotate(-90)" font-size="6.0" text-anchor="end" fill="#2a2a2a">-0.27</text>
<text transform="translate(70.50,310.53) rotate(-90)" font-size="6.0" text-anchor="end" fill="#2a2a2a">0.26</text>
<text transform="translate(87.68,314.29) rotate(-90)" font-size="6.0" text-anchor="end" fill="#2a2a2a">0.79</text>
<text transform="translate(105.75,318.25) rotate(-90)" font-size="6.0" text-anchor="end" fill="#2a2a2a">1.32</text>
<text transform="translate(124.78,322.41) rotate(-90)" font-size="6.0" text-anchor="end" fill="#2a2a2a">1.85</text>
<text transform="translate(144.85,326.81) rotate(-90)" font-size="6.0" text-anchor="end" fill="#2a2a2a">2.38</text>
<text transform="translate(166.06,331.45) rotate(-90)" font-size="6.0" text-anchor="end" fill="#2a2a2a">2.91</text>
<text transform="translate(188.48,336.36) rotate(-90)" font-size="6.0" text-anchor="end" fill="#2a2a2a">3.44</text>
<text transform="translate(212.25,341.56) rotate(-90)" font-size="6.0" text-anchor="end" fill="#2a2a2a">3.97</text>
<text transform="translate(237.47,347.08) rotate(-90)" font-size="6.0" text-anchor="end" fill="#2a2a2a">4.5</text>
<text transform="translate(263.34,341.52) rotate(-90)" font-size="6.0" text-anchor="end" fill="#2a2a2a">-0.27</text>
<text transform="translate(287.14,336.29) rotate(-90)" font-size="6.0" text-anchor="end" fill="#2a2a2a">-0.04</text>
<text transform="translate(309.60,331.35) rotate(-90)" font-size="6.0" text-anchor="end" fill="#2a2a2a">0.19</text>
<text transform="translate(330.82,326.68) rotate(-90)" font-size="6.0" text-anchor="end" fill="#2a2a2a">0.42</text>
<text transform="translate(350.91,322.26) rotate(-90)" font-size="6.0" text-anchor="end" fill="#2a2a2a">0.65</text>
<text transform="translate(369.96,318.07) rotate(-90)" font-size="6.0" text-anchor="end" fill="#2a2a2a">0.88</text>
<text transform="translate(388.03,314.10) rotate(-90)" font-size="6.0" text-anchor="end" fill="#2a2a2a">1.11</text>
<text transform="translate(405.22,310.32) rotate(-90)" font-size="6.0" text-anchor="end" fill="#2a2a2a">1.34</text>
<text transform="translate(421.57,306.72) rotate(-90)" font-size="6.0" text-anchor="end" fill="#2a2a2a">1.57</text>
<text transform="translate(437.16,303.29) rotate(-90)" font-size="6.0" text-anchor="end" fill="#2a2a2a">1.8</text>
<text x="205.8" y="15.6" font-size="19.8" fill="#000">Stress</text>
<text x="64.7" y="347.3" font-size="19.6" fill="#000">Glucose</text>
<text x="363.2" y="347.6" font-size="19.6" fill="#000">AA-Vit</text>
<text transform="translate(14.9,178.2) rotate(-90)" font-size="19" fill="#000">Lipid</text></g>
<g><circle cx="194.9" cy="25.2" r="1.70" fill="#fff" stroke="#808080" stroke-width="0.85"/>
<circle cx="199.9" cy="25.2" r="2.00" fill="#fff" stroke="#808080" stroke-width="0.85"/>
<circle cx="205.3" cy="25.2" r="2.40" fill="#fff" stroke="#808080" stroke-width="0.85"/>
<circle cx="211.9" cy="25.2" r="2.80" fill="#fff" stroke="#808080" stroke-width="0.85"/>
<circle cx="219.4" cy="25.2" r="3.30" fill="#fff" stroke="#808080" stroke-width="0.85"/>
<circle cx="227.2" cy="25.2" r="3.70" fill="#fff" stroke="#808080" stroke-width="0.85"/>
<circle cx="236.3" cy="25.2" r="4.20" fill="#fff" stroke="#808080" stroke-width="0.85"/>
<circle cx="246.1" cy="25.2" r="4.60" fill="#fff" stroke="#808080" stroke-width="0.85"/>
<circle cx="256.7" cy="25.2" r="5.00" fill="#fff" stroke="#808080" stroke-width="0.85"/>
<circle cx="268.1" cy="25.2" r="5.40" fill="#fff" stroke="#808080" stroke-width="0.85"/>
<text x="195" y="36.5" font-size="5" text-anchor="middle" fill="#444">-0.3</text>
<text x="224.2" y="36.5" font-size="5" text-anchor="middle" fill="#444">1.3</text>
<text x="268.3" y="36.5" font-size="5" text-anchor="middle" fill="#444">3.0</text></g>
<g><rect x="441.4" y="149.6" width="29.3" height="52.8" fill="#fff" stroke="#ddd" stroke-width="0.5"/>
<line x1="441.4" y1="156.8" x2="470.7" y2="156.8" stroke="#ddd" stroke-width="0.5"/>
<text x="455.9" y="154.9" font-size="4.6" text-anchor="middle" fill="#222">Group</text>
<circle cx="445.7" cy="161.50" r="2.3" fill="#5050f0" stroke="#aaa" stroke-width="0.3"/>
<text x="449.6" y="163.00" font-size="4.6" fill="#222">20-29 L-N</text>
<circle cx="445.7" cy="167.55" r="2.3" fill="#f04c8c" stroke="#aaa" stroke-width="0.3"/>
<text x="449.6" y="169.05" font-size="4.6" fill="#222">60-70 N-H</text>
<circle cx="445.7" cy="173.60" r="2.3" fill="#f8c848" stroke="#aaa" stroke-width="0.3"/>
<text x="449.6" y="175.10" font-size="4.6" fill="#222">30-59 L</text>
<circle cx="445.7" cy="179.65" r="2.3" fill="#88e048" stroke="#aaa" stroke-width="0.3"/>
<text x="449.6" y="181.15" font-size="4.6" fill="#222">30-59 N</text>
<circle cx="445.7" cy="185.70" r="2.3" fill="#b448f0" stroke="#aaa" stroke-width="0.3"/>
<text x="449.6" y="187.20" font-size="4.6" fill="#222">30-59 H</text>
<circle cx="445.7" cy="191.75" r="2.3" fill="#f49448" stroke="#aaa" stroke-width="0.3"/>
<text x="449.6" y="193.25" font-size="4.6" fill="#222">Healthy</text>
<circle cx="445.7" cy="197.80" r="2.3" fill="#f8f048" stroke="#aaa" stroke-width="0.3"/>
<text x="449.6" y="199.30" font-size="4.6" fill="#222">Diabetic</text></g>
</svg>
</body></html>
